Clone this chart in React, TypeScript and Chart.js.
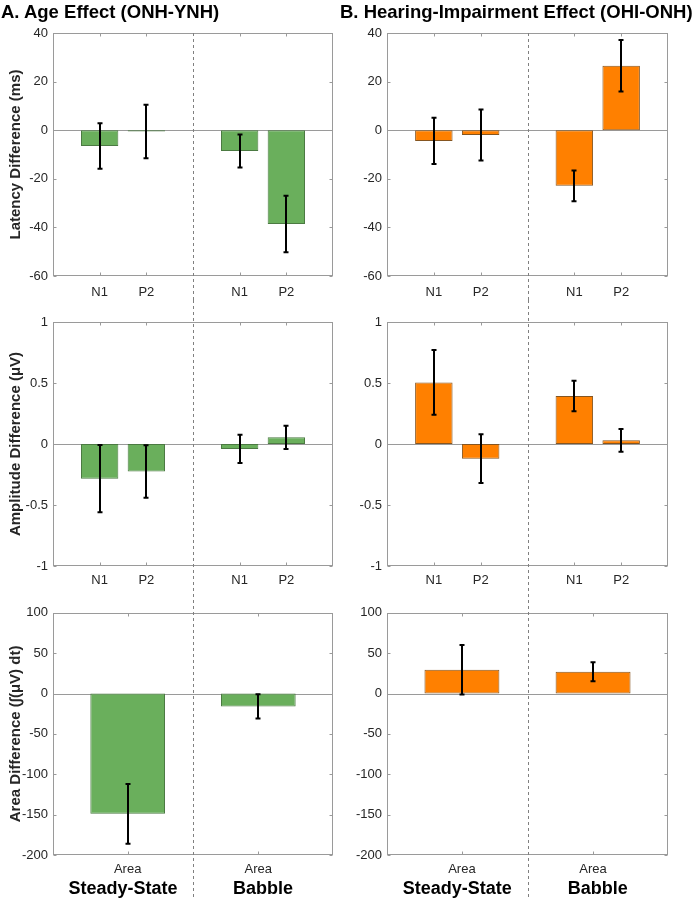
import React, { useEffect, useRef } from "react";
import { Chart, registerables } from "chart.js";

Chart.register(...registerables);

// ---------- data ----------
const panelTitles = ["A. Age Effect (ONH-YNH)", "B. Hearing-Impairment Effect (OHI-ONH)"];
const yTitles = ["Latency Difference (ms)", "Amplitude Difference (μV)", "Area Difference (∫(μV) dt)"];
const componentLabels = ["N1", "P2", "N1", "P2"];
const areaLabels = ["Area", "Area"];
const conditionLabels = ["Steady-State", "Babble"];

const latencyTicks = [-60, -40, -20, 0, 20, 40];
const amplitudeTicks = [-1, -0.5, 0, 0.5, 1];
const areaTicks = [-200, -150, -100, -50, 0, 50, 100];

// Age effect (ONH-YNH)
const ageLatency = [-6.5, -0.5, -8.6, -38.6];
const ageLatencyErr = [9.4, 11.0, 6.8, 11.6];
const ageAmplitude = [-0.284, -0.225, -0.04, 0.055];
const ageAmplitudeErr = [0.276, 0.215, 0.115, 0.095];
const ageArea = [-149, -16];
const ageAreaErr = [37, 15];

// Hearing-impairment effect (OHI-ONH)
const hiLatency = [-4.4, -2.0, -22.9, 26.5];
const hiLatencyErr = [9.5, 10.5, 6.3, 10.6];
const hiAmplitude = [0.505, -0.12, 0.393, 0.03];
const hiAmplitudeErr = [0.265, 0.2, 0.125, 0.093];
const hiArea = [29.5, 27];
const hiAreaErr = [30.7, 11.9];

// ---------- layout / style ----------
const COMPONENT_POS = [1, 2, 4, 5];
const CONDITION_POS = [1.6, 4.4];
const CONDITION_LABEL_POS = [1.5, 4.5];
const X_MIN = 0;
const X_MAX = 6;
const DIVIDER_X = 3;

const FONT = "'Liberation Sans', Arial, Helvetica, sans-serif";
const AXIS_COLOR = "#9a9a9a";
const TEXT_COLOR = "#262626";
const GREEN = "#6aaf5c";
const GREEN_EDGE = "#4b7a42";
const ORANGE = "#ff8000";
const ORANGE_EDGE = "#855520";

type PanelCfg = {
  values: number[];
  errors: number[];
  labels: string[];
  positions: number[];
  yTicks: number[];
  yTitle?: string;
  color: string;
  edge: string;
  barFrac: number;
  tickPad: number;
  conditions?: string[];
  dividerFromChart: boolean;
  leftW: number;
  rightPad: number;
  topPad: number;
  bottomH: number;
  left: number;
  top: number;
};

const matlabPlugin = {
  id: "matlab",
  beforeDatasetsDraw(chart: any) {
    const { ctx, chartArea: a, scales } = chart;
    const y0 = Math.round(scales.y.getPixelForValue(0)) + 0.5;
    ctx.save();
    ctx.strokeStyle = AXIS_COLOR;
    ctx.lineWidth = 1;
    ctx.beginPath();
    ctx.moveTo(a.left, y0);
    ctx.lineTo(a.right, y0);
    ctx.stroke();
    ctx.restore();
  },
  afterDatasetsDraw(chart: any, _args: any, opts: any) {
    const { ctx, chartArea: a, scales } = chart;
    const xs = scales.x;
    const ys = scales.y;
    const values: number[] = opts.values;
    const errors: number[] = opts.errors;
    const positions: number[] = opts.positions;
    ctx.save();
    // error bars
    ctx.strokeStyle = "#000";
    ctx.lineWidth = 2;
    positions.forEach((p, i) => {
      const px = Math.round(xs.getPixelForValue(p));
      const yt = ys.getPixelForValue(values[i] + errors[i]);
      const yb = ys.getPixelForValue(values[i] - errors[i]);
      ctx.beginPath();
      ctx.moveTo(px, yt);
      ctx.lineTo(px, yb);
      ctx.moveTo(px - 2.5, yt);
      ctx.lineTo(px + 2.5, yt);
      ctx.moveTo(px - 2.5, yb);
      ctx.lineTo(px + 2.5, yb);
      ctx.stroke();
    });
    // box
    ctx.strokeStyle = AXIS_COLOR;
    ctx.lineWidth = 1;
    const L = Math.round(a.left) + 0.5;
    const R = Math.round(a.right) - 0.5;
    const T = Math.round(a.top) + 0.5;
    const B = Math.round(a.bottom) - 0.5;
    ctx.strokeRect(L, T, R - L, B - T);
    // inward ticks
    ctx.beginPath();
    ys.ticks.forEach((t: any) => {
      const py = Math.round(ys.getPixelForValue(t.value)) + 0.5;
      ctx.moveTo(L, py);
      ctx.lineTo(L + 3, py);
      ctx.moveTo(R, py);
      ctx.lineTo(R - 3, py);
    });
    xs.ticks.forEach((t: any) => {
      const px = Math.round(xs.getPixelForValue(t.value)) + 0.5;
      ctx.moveTo(px, T);
      ctx.lineTo(px, T + 3);
      ctx.moveTo(px, B);
      ctx.lineTo(px, B - 3);
    });
    ctx.stroke();
    ctx.restore();
  },
  afterDraw(chart: any, _args: any, opts: any) {
    const { ctx, chartArea: a, scales } = chart;
    const xs = scales.x;
    ctx.save();
    // dashed divider
    const dx = Math.round(xs.getPixelForValue(DIVIDER_X)) + 0.5;
    ctx.strokeStyle = "#808080";
    ctx.lineWidth = 1;
    ctx.setLineDash([3, 3]);
    ctx.beginPath();
    ctx.moveTo(dx, opts.dividerFromChart ? a.top : 0);
    ctx.lineTo(dx, chart.height);
    ctx.stroke();
    ctx.setLineDash([]);
    // condition labels
    if (opts.conditions) {
      ctx.fillStyle = "#000";
      ctx.font = `bold 18px ${FONT}`;
      ctx.textAlign = "center";
      ctx.textBaseline = "middle";
      (opts.conditions as string[]).forEach((c, i) => {
        ctx.fillText(c, xs.getPixelForValue(CONDITION_LABEL_POS[i]), chart.height - 11);
      });
    }
    ctx.restore();
  },
};

function Panel({ cfg }: { cfg: PanelCfg }) {
  const ref = useRef<HTMLCanvasElement>(null);
  useEffect(() => {
    if (!ref.current) return;
    const yMin = cfg.yTicks[0];
    const yMax = cfg.yTicks[cfg.yTicks.length - 1];
    const chart = new Chart(ref.current, {
      type: "bar",
      data: {
        datasets: [
          {
            data: cfg.positions.map((p, i) => ({ x: p, y: cfg.values[i] })),
            backgroundColor: cfg.color,
            borderColor: cfg.edge,
            borderWidth: 1,
            borderSkipped: false,
            barPercentage: cfg.barFrac,
            categoryPercentage: 1,
          },
        ],
      },
      options: {
        animation: false,
        responsive: false,
        devicePixelRatio: 1,
        layout: {
          padding: { left: 0, right: cfg.rightPad, top: cfg.topPad, bottom: 0 },
        },
        plugins: {
          legend: { display: false },
          title: { display: false },
          tooltip: { enabled: false },
          matlab: {
            values: cfg.values,
            errors: cfg.errors,
            positions: cfg.positions,
            conditions: cfg.conditions,
            dividerFromChart: cfg.dividerFromChart,
          },
        } as any,
        scales: {
          x: {
            type: "linear",
            min: X_MIN,
            max: X_MAX,
            offset: false,
            grid: { display: false, drawTicks: false },
            border: { display: false },
            afterBuildTicks: (s: any) => {
              s.ticks = cfg.positions.map((p) => ({ value: p }));
            },
            afterFit: (s: any) => {
              s.height = cfg.bottomH;
            },
            ticks: {
              autoSkip: false,
              maxRotation: 0,
              padding: cfg.tickPad,
              color: TEXT_COLOR,
              font: { family: FONT, size: 13 },
              callback: (_v: any, i: number) => cfg.labels[i],
            },
          },
          y: {
            min: yMin,
            max: yMax,
            grid: { display: false, drawTicks: false },
            border: { display: false },
            afterBuildTicks: (s: any) => {
              s.ticks = cfg.yTicks.map((v) => ({ value: v }));
            },
            afterFit: (s: any) => {
              s.width = cfg.leftW;
            },
            ticks: {
              padding: 5,
              color: TEXT_COLOR,
              font: { family: FONT, size: 13 },
              callback: (v: any) => String(v),
            },
            title: {
              display: !!cfg.yTitle,
              text: cfg.yTitle || "",
              color: TEXT_COLOR,
              font: { family: FONT, size: 15, weight: "bold", lineHeight: 1.2 },
              padding: { top: 7, bottom: 0 },
            },
          },
        },
      } as any,
      plugins: [matlabPlugin],
    });
    return () => chart.destroy();
  }, [cfg]);
  return (
    <canvas
      ref={ref}
      width={346}
      height={300}
      style={{ position: "absolute", left: cfg.left, top: cfg.top, width: 346, height: 300 }}
    />
  );
}

const rows = [
  { ticks: latencyTicks, labels: componentLabels, positions: COMPONENT_POS, barFrac: 0.8, topPad: 33, bottomH: 24, tickPad: 9, first: true, last: false },
  { ticks: amplitudeTicks, labels: componentLabels, positions: COMPONENT_POS, barFrac: 0.8, topPad: 22, bottomH: 34, tickPad: 7, first: false, last: false },
  { ticks: areaTicks, labels: areaLabels, positions: CONDITION_POS, barFrac: 1.6 / 2.8, topPad: 11, bottomH: 45, tickPad: 7, first: false, last: true },
];

const ageSeries = [
  [ageLatency, ageLatencyErr],
  [ageAmplitude, ageAmplitudeErr],
  [ageArea, ageAreaErr],
];
const hiSeries = [
  [hiLatency, hiLatencyErr],
  [hiAmplitude, hiAmplitudeErr],
  [hiArea, hiAreaErr],
];

const panels: PanelCfg[] = [];
rows.forEach((r, ri) => {
  [0, 1].forEach((col) => {
    const s = col === 0 ? ageSeries[ri] : hiSeries[ri];
    panels.push({
      values: s[0],
      errors: s[1],
      labels: r.labels,
      positions: r.positions,
      yTicks: r.ticks,
      yTitle: col === 0 ? yTitles[ri] : undefined,
      color: col === 0 ? GREEN : ORANGE,
      edge: col === 0 ? GREEN_EDGE : ORANGE_EDGE,
      barFrac: r.barFrac,
      tickPad: r.tickPad,
      conditions: r.last ? conditionLabels : undefined,
      dividerFromChart: r.first,
      leftW: col === 0 ? 53 : 41,
      rightPad: col === 0 ? 13 : 24,
      topPad: r.topPad,
      bottomH: r.bottomH,
      left: col === 0 ? 0 : 346,
      top: ri * 300,
    });
  });
});

export default function App() {
  return (
    <div style={{ position: "absolute", left: 0, top: 0, width: 692, height: 900, background: "#fff", overflow: "hidden" }}>
      {panels.map((p, i) => (
        <Panel key={i} cfg={p} />
      ))}
      <div style={{ position: "absolute", left: 1, top: 0, font: `bold 18.5px ${FONT}`, color: "#000", lineHeight: "24px", whiteSpace: "nowrap" }}>
        {panelTitles[0]}
      </div>
      <div style={{ position: "absolute", left: 340, top: 0, font: `bold 18.5px ${FONT}`, color: "#000", lineHeight: "24px", whiteSpace: "nowrap" }}>
        {panelTitles[1]}
      </div>
    </div>
  );
}
